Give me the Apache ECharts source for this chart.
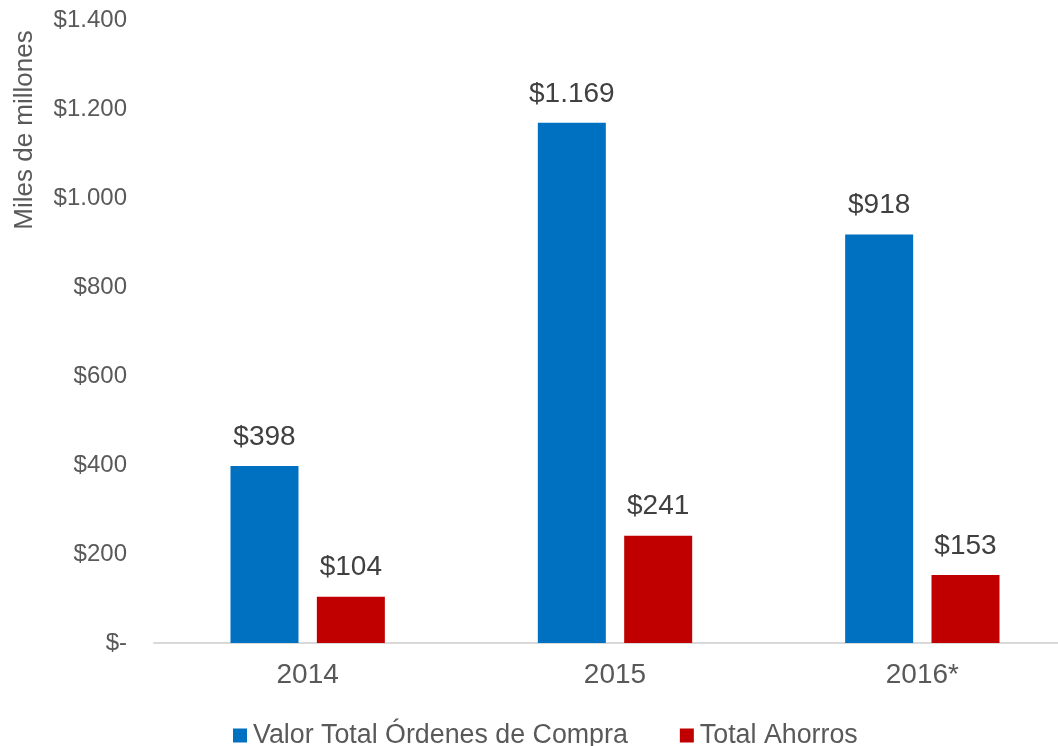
<!DOCTYPE html>
<html>
<head>
<meta charset="utf-8">
<script src="https://cdn.jsdelivr.net/npm/echarts@6/dist/echarts.min.js"></script>
<style>html,body{margin:0;padding:0;background:#fff;overflow:hidden;width:1058px;height:746px}#c{width:1076px;height:746px}</style>
</head>
<body>
<div id="c"></div>
<script>
var categories = ['2014', '2015', '2016*'];
var seriesNames = ['Valor Total Órdenes de Compra', 'Total Ahorros'];
var valorTotal = [398, 1169, 918];
var totalAhorros = [104, 241, 153];
var yTitle = 'Miles de millones';

function fmt(v) {
  if (v === 0) return '$-';
  return '$' + String(v).replace(/\B(?=(\d{3})+(?!\d))/g, '.');
}
var FONT = 'Liberation Sans, Arial, sans-serif';
var chart = echarts.init(document.getElementById('c'));
chart.setOption({
  animation: false,
  textStyle: { fontFamily: FONT },
  grid: { left: 154, top: 20, right: 0, bottom: 103, containLabel: false },
  legend: {
    left: 233, top: 722, padding: 0,
    icon: 'rect', itemWidth: 14, itemHeight: 14, itemGap: 52,
    textStyle: { fontSize: 26.8, color: '#595959', fontFamily: FONT, padding: [0, 0, 0, 1] },
    data: seriesNames
  },
  graphic: [{
    type: 'text', x: 25, y: 130, rotation: Math.PI / 2,
    style: { text: yTitle, fontSize: 26, fill: '#595959', fontFamily: FONT, align: 'center', verticalAlign: 'middle' }
  }],
  xAxis: {
    type: 'category', data: categories,
    axisLine: { lineStyle: { color: '#d9d9d9', width: 2 } },
    axisTick: { show: false },
    axisLabel: { fontSize: 28, color: '#595959', margin: 18, fontFamily: FONT }
  },
  yAxis: {
    type: 'value', min: 0, max: 1400, interval: 200,
    axisLine: { show: false }, axisTick: { show: false },
    splitLine: { show: false },
    axisLabel: { fontSize: 24, color: '#595959', margin: 27, formatter: fmt, fontFamily: FONT }
  },
  series: [
    {
      name: seriesNames[0], type: 'bar', data: valorTotal, barWidth: 68, barGap: '27%',
      itemStyle: { color: '#0070C0' },
      label: { show: true, position: 'top', distance: 15, fontSize: 28, color: '#404040', formatter: function (p) { return fmt(p.value); }, fontFamily: FONT }
    },
    {
      name: seriesNames[1], type: 'bar', data: totalAhorros, barWidth: 68, barGap: '27%',
      itemStyle: { color: '#C00000' },
      label: { show: true, position: 'top', distance: 15, fontSize: 28, color: '#404040', formatter: function (p) { return fmt(p.value); }, fontFamily: FONT }
    }
  ]
});
</script>
</body>
</html>
